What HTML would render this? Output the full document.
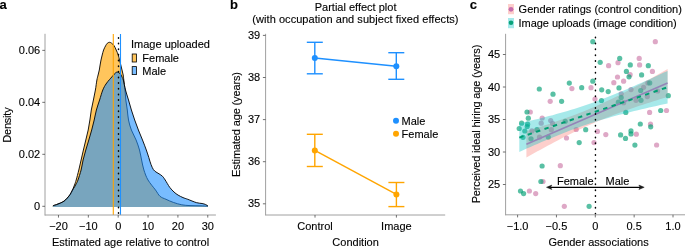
<!DOCTYPE html>
<html><head><meta charset="utf-8"><style>
html,body{margin:0;padding:0;background:#fff;width:685px;height:248px;overflow:hidden}
svg{display:block;will-change:transform}
</style></head><body>
<svg width="685" height="248" viewBox="0 0 685 248" font-family='"Liberation Sans", sans-serif'>
<style>text{stroke:#000;stroke-width:0.12px;paint-order:stroke}</style>
<rect width="685" height="248" fill="#fff"/>
<text x="-0.5" y="8.6" font-size="13" font-weight="bold" fill="#000">a</text>
<text x="230" y="8.8" font-size="13" font-weight="bold" fill="#000">b</text>
<text x="469.8" y="8.8" font-size="13" font-weight="bold" fill="#000">c</text>
<path d="M52.90,205.70 C53.48,205.52 55.15,205.05 56.40,204.60 C57.65,204.15 59.13,203.58 60.40,203.00 C61.67,202.42 62.87,201.92 64.00,201.10 C65.13,200.28 66.18,199.20 67.20,198.10 C68.22,197.00 69.22,195.85 70.10,194.50 C70.98,193.15 71.77,191.58 72.50,190.00 C73.23,188.42 73.88,186.67 74.50,185.00 C75.12,183.33 75.48,182.50 76.20,180.00 C76.92,177.50 77.98,173.33 78.80,170.00 C79.62,166.67 80.33,163.33 81.10,160.00 C81.87,156.67 82.62,153.33 83.40,150.00 C84.18,146.67 85.00,143.33 85.80,140.00 C86.60,136.67 87.52,133.33 88.20,130.00 C88.88,126.67 89.38,123.33 89.90,120.00 C90.42,116.67 90.72,113.33 91.30,110.00 C91.88,106.67 92.72,103.33 93.40,100.00 C94.08,96.67 94.82,93.33 95.40,90.00 C95.98,86.67 96.45,82.50 96.90,80.00 C97.35,77.50 97.70,76.67 98.10,75.00 C98.50,73.33 98.97,71.67 99.30,70.00 C99.63,68.33 99.82,66.67 100.10,65.00 C100.38,63.33 100.65,61.67 101.00,60.00 C101.35,58.33 101.77,56.67 102.20,55.00 C102.63,53.33 103.03,51.53 103.60,50.00 C104.17,48.47 104.98,46.92 105.60,45.80 C106.22,44.68 106.67,43.88 107.30,43.30 C107.93,42.72 108.68,42.32 109.40,42.30 C110.12,42.28 110.82,42.63 111.60,43.20 C112.38,43.77 113.33,44.57 114.10,45.70 C114.87,46.83 115.50,48.45 116.20,50.00 C116.90,51.55 117.75,53.33 118.30,55.00 C118.85,56.67 119.08,58.33 119.50,60.00 C119.92,61.67 120.38,63.33 120.80,65.00 C121.22,66.67 121.60,68.33 122.00,70.00 C122.40,71.67 122.90,73.33 123.20,75.00 C123.50,76.67 123.50,77.50 123.80,80.00 C124.10,82.50 124.67,86.67 125.00,90.00 C125.33,93.33 125.42,96.67 125.80,100.00 C126.18,103.33 126.85,106.67 127.30,110.00 C127.75,113.33 127.82,116.67 128.50,120.00 C129.18,123.33 130.13,126.67 131.40,130.00 C132.67,133.33 134.75,136.67 136.10,140.00 C137.45,143.33 138.58,146.67 139.50,150.00 C140.42,153.33 140.87,156.67 141.60,160.00 C142.33,163.33 142.83,166.67 143.90,170.00 C144.97,173.33 146.07,176.67 148.00,180.00 C149.93,183.33 153.50,187.28 155.50,190.00 C157.50,192.72 158.25,194.75 160.00,196.30 C161.75,197.85 163.78,198.28 166.00,199.30 C168.22,200.32 170.67,201.48 173.30,202.40 C175.93,203.32 179.02,204.27 181.80,204.80 C184.58,205.33 186.97,205.43 190.00,205.60 C193.03,205.77 197.03,205.72 200.00,205.80 C202.97,205.88 206.50,206.05 207.80,206.10 L207.8,206.9 L52.5,206.9 Z" fill="#FFA500" fill-opacity="0.64" stroke="none"/>
<path d="M52.90,205.70 C53.48,205.52 55.15,205.05 56.40,204.60 C57.65,204.15 59.13,203.58 60.40,203.00 C61.67,202.42 62.87,201.92 64.00,201.10 C65.13,200.28 66.18,199.20 67.20,198.10 C68.22,197.00 69.22,195.85 70.10,194.50 C70.98,193.15 71.77,191.58 72.50,190.00 C73.23,188.42 73.88,186.67 74.50,185.00 C75.12,183.33 75.48,182.50 76.20,180.00 C76.92,177.50 77.98,173.33 78.80,170.00 C79.62,166.67 80.33,163.33 81.10,160.00 C81.87,156.67 82.62,153.33 83.40,150.00 C84.18,146.67 85.00,143.33 85.80,140.00 C86.60,136.67 87.52,133.33 88.20,130.00 C88.88,126.67 89.38,123.33 89.90,120.00 C90.42,116.67 90.72,113.33 91.30,110.00 C91.88,106.67 92.72,103.33 93.40,100.00 C94.08,96.67 94.82,93.33 95.40,90.00 C95.98,86.67 96.45,82.50 96.90,80.00 C97.35,77.50 97.70,76.67 98.10,75.00 C98.50,73.33 98.97,71.67 99.30,70.00 C99.63,68.33 99.82,66.67 100.10,65.00 C100.38,63.33 100.65,61.67 101.00,60.00 C101.35,58.33 101.77,56.67 102.20,55.00 C102.63,53.33 103.03,51.53 103.60,50.00 C104.17,48.47 104.98,46.92 105.60,45.80 C106.22,44.68 106.67,43.88 107.30,43.30 C107.93,42.72 108.68,42.32 109.40,42.30 C110.12,42.28 110.82,42.63 111.60,43.20 C112.38,43.77 113.33,44.57 114.10,45.70 C114.87,46.83 115.50,48.45 116.20,50.00 C116.90,51.55 117.75,53.33 118.30,55.00 C118.85,56.67 119.08,58.33 119.50,60.00 C119.92,61.67 120.38,63.33 120.80,65.00 C121.22,66.67 121.60,68.33 122.00,70.00 C122.40,71.67 122.90,73.33 123.20,75.00 C123.50,76.67 123.50,77.50 123.80,80.00 C124.10,82.50 124.67,86.67 125.00,90.00 C125.33,93.33 125.42,96.67 125.80,100.00 C126.18,103.33 126.85,106.67 127.30,110.00 C127.75,113.33 127.82,116.67 128.50,120.00 C129.18,123.33 130.13,126.67 131.40,130.00 C132.67,133.33 134.75,136.67 136.10,140.00 C137.45,143.33 138.58,146.67 139.50,150.00 C140.42,153.33 140.87,156.67 141.60,160.00 C142.33,163.33 142.83,166.67 143.90,170.00 C144.97,173.33 146.07,176.67 148.00,180.00 C149.93,183.33 153.50,187.28 155.50,190.00 C157.50,192.72 158.25,194.75 160.00,196.30 C161.75,197.85 163.78,198.28 166.00,199.30 C168.22,200.32 170.67,201.48 173.30,202.40 C175.93,203.32 179.02,204.27 181.80,204.80 C184.58,205.33 186.97,205.43 190.00,205.60 C193.03,205.77 197.03,205.72 200.00,205.80 C202.97,205.88 206.50,206.05 207.80,206.10" fill="none" stroke="#000" stroke-width="0.9" stroke-linejoin="round"/>
<path d="M53.00,205.70 C53.57,205.53 55.17,205.13 56.40,204.70 C57.63,204.27 59.13,203.68 60.40,203.10 C61.67,202.52 62.87,202.02 64.00,201.20 C65.13,200.38 66.18,199.30 67.20,198.20 C68.22,197.10 69.23,195.92 70.10,194.60 C70.97,193.28 71.65,191.60 72.40,190.30 C73.15,189.00 73.92,187.97 74.60,186.80 C75.28,185.63 75.93,184.43 76.50,183.30 C77.07,182.17 77.23,182.22 78.00,180.00 C78.77,177.78 80.25,173.33 81.10,170.00 C81.95,166.67 82.32,163.33 83.10,160.00 C83.88,156.67 84.85,153.33 85.80,150.00 C86.75,146.67 87.82,143.33 88.80,140.00 C89.78,136.67 90.80,133.33 91.70,130.00 C92.60,126.67 93.42,123.33 94.20,120.00 C94.98,116.67 95.50,113.33 96.40,110.00 C97.30,106.67 98.53,103.33 99.60,100.00 C100.67,96.67 101.73,92.67 102.80,90.00 C103.87,87.33 104.88,85.73 106.00,84.00 C107.12,82.27 108.53,80.77 109.50,79.60 C110.47,78.43 111.02,77.90 111.80,77.00 C112.58,76.10 113.35,75.02 114.20,74.20 C115.05,73.38 116.07,72.30 116.90,72.10 C117.73,71.90 118.53,72.57 119.20,73.00 C119.87,73.43 120.40,73.98 120.90,74.70 C121.40,75.42 121.80,76.42 122.20,77.30 C122.60,78.18 122.75,77.88 123.30,80.00 C123.85,82.12 124.63,86.67 125.50,90.00 C126.37,93.33 127.52,96.67 128.50,100.00 C129.48,103.33 130.37,106.67 131.40,110.00 C132.43,113.33 133.53,116.67 134.70,120.00 C135.87,123.33 137.10,126.67 138.40,130.00 C139.70,133.33 141.18,136.67 142.50,140.00 C143.82,143.33 145.25,147.08 146.30,150.00 C147.35,152.92 148.02,155.08 148.80,157.50 C149.58,159.92 150.23,162.48 151.00,164.50 C151.77,166.52 152.57,168.35 153.40,169.60 C154.23,170.85 155.07,171.30 156.00,172.00 C156.93,172.70 157.93,173.10 159.00,173.80 C160.07,174.50 161.37,175.17 162.40,176.20 C163.43,177.23 163.98,178.15 165.20,180.00 C166.42,181.85 168.23,185.30 169.70,187.30 C171.17,189.30 172.60,190.70 174.00,192.00 C175.40,193.30 176.60,194.17 178.10,195.10 C179.60,196.03 181.38,196.90 183.00,197.60 C184.62,198.30 185.58,198.47 187.80,199.30 C190.02,200.13 193.93,201.90 196.30,202.60 C198.67,203.30 200.45,203.18 202.00,203.50 C203.55,203.82 204.62,204.08 205.60,204.50 C206.58,204.92 207.52,205.75 207.90,206.00 L207.9,206.9 L52.6,206.9 Z" fill="#1E90FF" fill-opacity="0.6" stroke="none"/>
<path d="M53.00,205.70 C53.57,205.53 55.17,205.13 56.40,204.70 C57.63,204.27 59.13,203.68 60.40,203.10 C61.67,202.52 62.87,202.02 64.00,201.20 C65.13,200.38 66.18,199.30 67.20,198.20 C68.22,197.10 69.23,195.92 70.10,194.60 C70.97,193.28 71.65,191.60 72.40,190.30 C73.15,189.00 73.92,187.97 74.60,186.80 C75.28,185.63 75.93,184.43 76.50,183.30 C77.07,182.17 77.23,182.22 78.00,180.00 C78.77,177.78 80.25,173.33 81.10,170.00 C81.95,166.67 82.32,163.33 83.10,160.00 C83.88,156.67 84.85,153.33 85.80,150.00 C86.75,146.67 87.82,143.33 88.80,140.00 C89.78,136.67 90.80,133.33 91.70,130.00 C92.60,126.67 93.42,123.33 94.20,120.00 C94.98,116.67 95.50,113.33 96.40,110.00 C97.30,106.67 98.53,103.33 99.60,100.00 C100.67,96.67 101.73,92.67 102.80,90.00 C103.87,87.33 104.88,85.73 106.00,84.00 C107.12,82.27 108.53,80.77 109.50,79.60 C110.47,78.43 111.02,77.90 111.80,77.00 C112.58,76.10 113.35,75.02 114.20,74.20 C115.05,73.38 116.07,72.30 116.90,72.10 C117.73,71.90 118.53,72.57 119.20,73.00 C119.87,73.43 120.40,73.98 120.90,74.70 C121.40,75.42 121.80,76.42 122.20,77.30 C122.60,78.18 122.75,77.88 123.30,80.00 C123.85,82.12 124.63,86.67 125.50,90.00 C126.37,93.33 127.52,96.67 128.50,100.00 C129.48,103.33 130.37,106.67 131.40,110.00 C132.43,113.33 133.53,116.67 134.70,120.00 C135.87,123.33 137.10,126.67 138.40,130.00 C139.70,133.33 141.18,136.67 142.50,140.00 C143.82,143.33 145.25,147.08 146.30,150.00 C147.35,152.92 148.02,155.08 148.80,157.50 C149.58,159.92 150.23,162.48 151.00,164.50 C151.77,166.52 152.57,168.35 153.40,169.60 C154.23,170.85 155.07,171.30 156.00,172.00 C156.93,172.70 157.93,173.10 159.00,173.80 C160.07,174.50 161.37,175.17 162.40,176.20 C163.43,177.23 163.98,178.15 165.20,180.00 C166.42,181.85 168.23,185.30 169.70,187.30 C171.17,189.30 172.60,190.70 174.00,192.00 C175.40,193.30 176.60,194.17 178.10,195.10 C179.60,196.03 181.38,196.90 183.00,197.60 C184.62,198.30 185.58,198.47 187.80,199.30 C190.02,200.13 193.93,201.90 196.30,202.60 C198.67,203.30 200.45,203.18 202.00,203.50 C203.55,203.82 204.62,204.08 205.60,204.50 C206.58,204.92 207.52,205.75 207.90,206.00" fill="none" stroke="#000" stroke-width="0.9" stroke-linejoin="round"/>
<line x1="113.3" y1="34" x2="113.3" y2="215" stroke="#FFA500" stroke-width="1.1"/>
<line x1="118.5" y1="37.65" x2="118.5" y2="215" stroke="#000" stroke-width="1.5" stroke-linecap="round" stroke-dasharray="0.5 5.15"/>
<line x1="120.5" y1="34" x2="120.5" y2="215" stroke="#1E90FF" stroke-width="1.1"/>
<line x1="45" y1="33.8" x2="45" y2="215.5" stroke="#a0a0a0" stroke-width="1"/>
<line x1="44.8" y1="215" x2="215.9" y2="215" stroke="#a0a0a0" stroke-width="1"/>
<line x1="42.3" y1="206.30" x2="45" y2="206.30" stroke="#4d4d4d" stroke-width="0.8"/>
<text x="40.2" y="209.80" font-size="11" text-anchor="end" fill="#000">0</text>
<line x1="42.3" y1="154.32" x2="45" y2="154.32" stroke="#4d4d4d" stroke-width="0.8"/>
<text x="40.2" y="157.82" font-size="11" text-anchor="end" fill="#000">0.02</text>
<line x1="42.3" y1="102.34" x2="45" y2="102.34" stroke="#4d4d4d" stroke-width="0.8"/>
<text x="40.2" y="105.84" font-size="11" text-anchor="end" fill="#000">0.04</text>
<line x1="42.3" y1="50.36" x2="45" y2="50.36" stroke="#4d4d4d" stroke-width="0.8"/>
<text x="40.2" y="53.86" font-size="11" text-anchor="end" fill="#000">0.06</text>
<line x1="58.48" y1="215" x2="58.48" y2="217.6" stroke="#4d4d4d" stroke-width="0.8"/>
<text x="58.48" y="230.2" font-size="11" text-anchor="middle" fill="#000">−20</text>
<line x1="88.34" y1="215" x2="88.34" y2="217.6" stroke="#4d4d4d" stroke-width="0.8"/>
<text x="88.34" y="230.2" font-size="11" text-anchor="middle" fill="#000">−10</text>
<line x1="118.20" y1="215" x2="118.20" y2="217.6" stroke="#4d4d4d" stroke-width="0.8"/>
<text x="118.20" y="230.2" font-size="11" text-anchor="middle" fill="#000">0</text>
<line x1="148.06" y1="215" x2="148.06" y2="217.6" stroke="#4d4d4d" stroke-width="0.8"/>
<text x="148.06" y="230.2" font-size="11" text-anchor="middle" fill="#000">10</text>
<line x1="177.92" y1="215" x2="177.92" y2="217.6" stroke="#4d4d4d" stroke-width="0.8"/>
<text x="177.92" y="230.2" font-size="11" text-anchor="middle" fill="#000">20</text>
<line x1="207.78" y1="215" x2="207.78" y2="217.6" stroke="#4d4d4d" stroke-width="0.8"/>
<text x="207.78" y="230.2" font-size="11" text-anchor="middle" fill="#000">30</text>
<text x="130.6" y="245.9" font-size="11" text-anchor="middle" fill="#000">Estimated age relative to control</text>
<text transform="translate(10.6,125.05) rotate(-90)" font-size="11" text-anchor="middle" textLength="35.4" lengthAdjust="spacing" fill="#000">Density</text>
<text x="131" y="48" font-size="11" fill="#000">Image uploaded</text>
<rect x="132.2" y="54.0" width="4.2" height="8" fill="#FFA500" fill-opacity="0.64" stroke="#000" stroke-width="0.8"/>
<rect x="132.2" y="66.6" width="4.2" height="8" fill="#1E90FF" fill-opacity="0.6" stroke="#000" stroke-width="0.8"/>
<text x="142.3" y="62" font-size="11" fill="#000">Female</text>
<text x="142.3" y="75" font-size="11" fill="#000">Male</text>
<text x="355.6" y="10.9" font-size="11" text-anchor="middle" fill="#000">Partial effect plot</text>
<text x="355.4" y="23.4" font-size="11" text-anchor="middle" textLength="206.1" lengthAdjust="spacing" fill="#000">(with occupation and subject fixed effects)</text>
<line x1="265.6" y1="33.8" x2="265.6" y2="215.2" stroke="#a0a0a0" stroke-width="1"/>
<line x1="265.1" y1="215" x2="445.2" y2="215" stroke="#a0a0a0" stroke-width="1"/>
<line x1="262.9" y1="203.80" x2="265.6" y2="203.80" stroke="#4d4d4d" stroke-width="0.8"/>
<text x="260.2" y="207.30" font-size="11" text-anchor="end" fill="#000">35</text>
<line x1="262.9" y1="161.70" x2="265.6" y2="161.70" stroke="#4d4d4d" stroke-width="0.8"/>
<text x="260.2" y="165.20" font-size="11" text-anchor="end" fill="#000">36</text>
<line x1="262.9" y1="119.60" x2="265.6" y2="119.60" stroke="#4d4d4d" stroke-width="0.8"/>
<text x="260.2" y="123.10" font-size="11" text-anchor="end" fill="#000">37</text>
<line x1="262.9" y1="77.50" x2="265.6" y2="77.50" stroke="#4d4d4d" stroke-width="0.8"/>
<text x="260.2" y="81.00" font-size="11" text-anchor="end" fill="#000">38</text>
<line x1="262.9" y1="35.40" x2="265.6" y2="35.40" stroke="#4d4d4d" stroke-width="0.8"/>
<text x="260.2" y="38.90" font-size="11" text-anchor="end" fill="#000">39</text>
<line x1="315" y1="215" x2="315" y2="217.6" stroke="#4d4d4d" stroke-width="0.8"/>
<text x="315" y="230.2" font-size="11" text-anchor="middle" fill="#000">Control</text>
<line x1="396.4" y1="215" x2="396.4" y2="217.6" stroke="#4d4d4d" stroke-width="0.8"/>
<text x="396.4" y="230.2" font-size="11" text-anchor="middle" fill="#000">Image</text>
<text x="355.6" y="245.9" font-size="11" text-anchor="middle" fill="#000">Condition</text>
<text transform="translate(239.6,124.45) rotate(-90)" font-size="11" text-anchor="middle" textLength="104.9" lengthAdjust="spacing" fill="#000">Estimated age (years)</text>
<line x1="314.8" y1="58" x2="396.3" y2="66.2" stroke="#1E90FF" stroke-width="1.4"/>
<line x1="314.8" y1="150.4" x2="396.4" y2="194.4" stroke="#FFA500" stroke-width="1.4"/>
<line x1="314.8" y1="42.3" x2="314.8" y2="73.8" stroke="#1E90FF" stroke-width="1.4"/>
<line x1="306.8" y1="42.3" x2="322.8" y2="42.3" stroke="#1E90FF" stroke-width="1.4"/>
<line x1="306.8" y1="73.8" x2="322.8" y2="73.8" stroke="#1E90FF" stroke-width="1.4"/>
<circle cx="314.8" cy="58" r="3" fill="#1E90FF"/>
<line x1="396.3" y1="52.7" x2="396.3" y2="79.3" stroke="#1E90FF" stroke-width="1.4"/>
<line x1="388.3" y1="52.7" x2="404.3" y2="52.7" stroke="#1E90FF" stroke-width="1.4"/>
<line x1="388.3" y1="79.3" x2="404.3" y2="79.3" stroke="#1E90FF" stroke-width="1.4"/>
<circle cx="396.3" cy="66.2" r="3" fill="#1E90FF"/>
<line x1="314.8" y1="134.3" x2="314.8" y2="166.5" stroke="#FFA500" stroke-width="1.4"/>
<line x1="306.8" y1="134.3" x2="322.8" y2="134.3" stroke="#FFA500" stroke-width="1.4"/>
<line x1="306.8" y1="166.5" x2="322.8" y2="166.5" stroke="#FFA500" stroke-width="1.4"/>
<circle cx="314.8" cy="150.4" r="3" fill="#FFA500"/>
<line x1="396.4" y1="182.5" x2="396.4" y2="206.6" stroke="#FFA500" stroke-width="1.4"/>
<line x1="388.4" y1="182.5" x2="404.4" y2="182.5" stroke="#FFA500" stroke-width="1.4"/>
<line x1="388.4" y1="206.6" x2="404.4" y2="206.6" stroke="#FFA500" stroke-width="1.4"/>
<circle cx="396.4" cy="194.4" r="3" fill="#FFA500"/>
<circle cx="396" cy="120.8" r="3" fill="#1E90FF"/>
<circle cx="396" cy="133.8" r="3" fill="#FFA500"/>
<text x="401.6" y="124.8" font-size="11" fill="#000">Male</text>
<text x="401.6" y="137.5" font-size="11" fill="#000">Female</text>
<defs><clipPath id="cc"><rect x="506" y="33" width="179" height="182"/></clipPath></defs>
<rect x="508" y="4" width="6" height="10.2" fill="#F8766D" fill-opacity="0.35"/>
<rect x="508" y="18" width="6" height="10.2" fill="#00BFC4" fill-opacity="0.35"/>
<circle cx="511" cy="9.3" r="2.4" fill="#C062AA" fill-opacity="0.9"/>
<circle cx="511" cy="22.8" r="2.3" fill="#009E73" fill-opacity="0.95"/>
<text x="518.6" y="13" font-size="11" fill="#000">Gender ratings (control condition)</text>
<text x="518.6" y="26.8" font-size="11" textLength="158.1" lengthAdjust="spacing" fill="#000">Image uploads (image condition)</text>
<g clip-path="url(#cc)">
<circle cx="655.3" cy="41.7" r="2.6" fill="#CC79A7" fill-opacity="0.65"/>
<circle cx="571.9" cy="88.6" r="2.6" fill="#CC79A7" fill-opacity="0.65"/>
<circle cx="591" cy="87.7" r="2.6" fill="#CC79A7" fill-opacity="0.65"/>
<circle cx="550.2" cy="101.3" r="2.6" fill="#CC79A7" fill-opacity="0.65"/>
<circle cx="595" cy="99" r="2.6" fill="#CC79A7" fill-opacity="0.65"/>
<circle cx="608.6" cy="65.7" r="2.6" fill="#CC79A7" fill-opacity="0.65"/>
<circle cx="618" cy="62.7" r="2.6" fill="#CC79A7" fill-opacity="0.65"/>
<circle cx="639.2" cy="58.4" r="2.6" fill="#CC79A7" fill-opacity="0.65"/>
<circle cx="639.6" cy="64.9" r="2.6" fill="#CC79A7" fill-opacity="0.65"/>
<circle cx="630.1" cy="74.7" r="2.6" fill="#CC79A7" fill-opacity="0.65"/>
<circle cx="617.5" cy="77" r="2.6" fill="#CC79A7" fill-opacity="0.65"/>
<circle cx="652.4" cy="71.4" r="2.6" fill="#CC79A7" fill-opacity="0.65"/>
<circle cx="613.8" cy="82.7" r="2.6" fill="#CC79A7" fill-opacity="0.65"/>
<circle cx="623.6" cy="81.2" r="2.6" fill="#CC79A7" fill-opacity="0.65"/>
<circle cx="631" cy="89.6" r="2.6" fill="#CC79A7" fill-opacity="0.65"/>
<circle cx="621.2" cy="93.8" r="2.6" fill="#CC79A7" fill-opacity="0.65"/>
<circle cx="623.6" cy="102.7" r="2.6" fill="#CC79A7" fill-opacity="0.65"/>
<circle cx="636" cy="100.3" r="2.6" fill="#CC79A7" fill-opacity="0.65"/>
<circle cx="649.6" cy="112.4" r="2.6" fill="#CC79A7" fill-opacity="0.65"/>
<circle cx="666.5" cy="110.5" r="2.6" fill="#CC79A7" fill-opacity="0.65"/>
<circle cx="650.5" cy="124.2" r="2.6" fill="#CC79A7" fill-opacity="0.65"/>
<circle cx="647.9" cy="83" r="2.6" fill="#CC79A7" fill-opacity="0.65"/>
<circle cx="643.6" cy="87.3" r="2.6" fill="#CC79A7" fill-opacity="0.65"/>
<circle cx="647.3" cy="96.6" r="2.6" fill="#CC79A7" fill-opacity="0.65"/>
<circle cx="657.6" cy="91" r="2.6" fill="#CC79A7" fill-opacity="0.65"/>
<circle cx="530.3" cy="112" r="2.6" fill="#CC79A7" fill-opacity="0.65"/>
<circle cx="542.2" cy="118" r="2.6" fill="#CC79A7" fill-opacity="0.65"/>
<circle cx="541.2" cy="123.2" r="2.6" fill="#CC79A7" fill-opacity="0.65"/>
<circle cx="531.9" cy="130.9" r="2.6" fill="#CC79A7" fill-opacity="0.65"/>
<circle cx="539.5" cy="137" r="2.6" fill="#CC79A7" fill-opacity="0.65"/>
<circle cx="550.7" cy="120.6" r="2.6" fill="#CC79A7" fill-opacity="0.65"/>
<circle cx="551.3" cy="129.7" r="2.6" fill="#CC79A7" fill-opacity="0.65"/>
<circle cx="552.6" cy="123.4" r="2.6" fill="#CC79A7" fill-opacity="0.65"/>
<circle cx="576.2" cy="129.5" r="2.6" fill="#CC79A7" fill-opacity="0.65"/>
<circle cx="597.4" cy="131.4" r="2.6" fill="#CC79A7" fill-opacity="0.65"/>
<circle cx="566.5" cy="138" r="2.6" fill="#CC79A7" fill-opacity="0.65"/>
<circle cx="594" cy="142.6" r="2.6" fill="#CC79A7" fill-opacity="0.65"/>
<circle cx="605.8" cy="134.6" r="2.6" fill="#CC79A7" fill-opacity="0.65"/>
<circle cx="636.3" cy="134.2" r="2.6" fill="#CC79A7" fill-opacity="0.65"/>
<circle cx="656.6" cy="145" r="2.6" fill="#CC79A7" fill-opacity="0.65"/>
<circle cx="560.3" cy="165.7" r="2.6" fill="#CC79A7" fill-opacity="0.65"/>
<circle cx="543" cy="181.5" r="2.6" fill="#CC79A7" fill-opacity="0.65"/>
<circle cx="529.4" cy="191" r="2.6" fill="#CC79A7" fill-opacity="0.65"/>
<circle cx="535.7" cy="193.6" r="2.6" fill="#CC79A7" fill-opacity="0.65"/>
<circle cx="564.3" cy="206.3" r="2.6" fill="#CC79A7" fill-opacity="0.65"/>
<circle cx="592.8" cy="41.7" r="2.6" fill="#009E73" fill-opacity="0.65"/>
<circle cx="539.3" cy="89" r="2.6" fill="#009E73" fill-opacity="0.65"/>
<circle cx="569.3" cy="83.1" r="2.6" fill="#009E73" fill-opacity="0.65"/>
<circle cx="581.7" cy="87.7" r="2.6" fill="#009E73" fill-opacity="0.65"/>
<circle cx="592.8" cy="81.2" r="2.6" fill="#009E73" fill-opacity="0.65"/>
<circle cx="553" cy="94.2" r="2.6" fill="#009E73" fill-opacity="0.65"/>
<circle cx="561.6" cy="101.3" r="2.6" fill="#009E73" fill-opacity="0.65"/>
<circle cx="601.5" cy="100.5" r="2.6" fill="#009E73" fill-opacity="0.65"/>
<circle cx="600.2" cy="62.3" r="2.6" fill="#009E73" fill-opacity="0.65"/>
<circle cx="619.7" cy="58.4" r="2.6" fill="#009E73" fill-opacity="0.65"/>
<circle cx="630.3" cy="64.9" r="2.6" fill="#009E73" fill-opacity="0.65"/>
<circle cx="626.4" cy="71.4" r="2.6" fill="#009E73" fill-opacity="0.65"/>
<circle cx="629" cy="76.8" r="2.6" fill="#009E73" fill-opacity="0.65"/>
<circle cx="641.6" cy="74.9" r="2.6" fill="#009E73" fill-opacity="0.65"/>
<circle cx="648.3" cy="65.7" r="2.6" fill="#009E73" fill-opacity="0.65"/>
<circle cx="601.7" cy="89.8" r="2.6" fill="#009E73" fill-opacity="0.65"/>
<circle cx="608.2" cy="91.6" r="2.6" fill="#009E73" fill-opacity="0.65"/>
<circle cx="619" cy="87.9" r="2.6" fill="#009E73" fill-opacity="0.65"/>
<circle cx="640.7" cy="90.5" r="2.6" fill="#009E73" fill-opacity="0.65"/>
<circle cx="621.2" cy="97.6" r="2.6" fill="#009E73" fill-opacity="0.65"/>
<circle cx="618.4" cy="102.2" r="2.6" fill="#009E73" fill-opacity="0.65"/>
<circle cx="641" cy="100.3" r="2.6" fill="#009E73" fill-opacity="0.65"/>
<circle cx="625.8" cy="112.4" r="2.6" fill="#009E73" fill-opacity="0.65"/>
<circle cx="640.3" cy="124" r="2.6" fill="#009E73" fill-opacity="0.65"/>
<circle cx="668.3" cy="95.7" r="2.6" fill="#009E73" fill-opacity="0.65"/>
<circle cx="660.7" cy="110.5" r="2.6" fill="#009E73" fill-opacity="0.65"/>
<circle cx="650.7" cy="126.8" r="2.6" fill="#009E73" fill-opacity="0.65"/>
<circle cx="649.7" cy="82.9" r="2.6" fill="#009E73" fill-opacity="0.65"/>
<circle cx="523" cy="137.3" r="2.6" fill="#009E73" fill-opacity="0.65"/>
<circle cx="527" cy="112" r="2.6" fill="#009E73" fill-opacity="0.65"/>
<circle cx="528.3" cy="118.2" r="2.6" fill="#009E73" fill-opacity="0.65"/>
<circle cx="521.6" cy="123.2" r="2.6" fill="#009E73" fill-opacity="0.65"/>
<circle cx="527.6" cy="124.2" r="2.6" fill="#009E73" fill-opacity="0.65"/>
<circle cx="527.2" cy="126.5" r="2.6" fill="#009E73" fill-opacity="0.65"/>
<circle cx="519.2" cy="128.5" r="2.6" fill="#009E73" fill-opacity="0.65"/>
<circle cx="524.8" cy="131" r="2.6" fill="#009E73" fill-opacity="0.65"/>
<circle cx="537" cy="129.7" r="2.6" fill="#009E73" fill-opacity="0.65"/>
<circle cx="531" cy="138.8" r="2.6" fill="#009E73" fill-opacity="0.65"/>
<circle cx="548.3" cy="137.1" r="2.6" fill="#009E73" fill-opacity="0.65"/>
<circle cx="565.2" cy="121.3" r="2.6" fill="#009E73" fill-opacity="0.65"/>
<circle cx="585.7" cy="129.7" r="2.6" fill="#009E73" fill-opacity="0.65"/>
<circle cx="579.2" cy="142.6" r="2.6" fill="#009E73" fill-opacity="0.65"/>
<circle cx="620.6" cy="134.9" r="2.6" fill="#009E73" fill-opacity="0.65"/>
<circle cx="625.5" cy="138.4" r="2.6" fill="#009E73" fill-opacity="0.65"/>
<circle cx="631" cy="130.9" r="2.6" fill="#009E73" fill-opacity="0.65"/>
<circle cx="631" cy="133.9" r="2.6" fill="#009E73" fill-opacity="0.65"/>
<circle cx="634.9" cy="145.1" r="2.6" fill="#009E73" fill-opacity="0.65"/>
<circle cx="542.1" cy="166" r="2.6" fill="#009E73" fill-opacity="0.65"/>
<circle cx="540.9" cy="181.5" r="2.6" fill="#009E73" fill-opacity="0.65"/>
<circle cx="520.5" cy="191" r="2.6" fill="#009E73" fill-opacity="0.65"/>
<circle cx="523.6" cy="193.6" r="2.6" fill="#009E73" fill-opacity="0.65"/>
<circle cx="589.1" cy="206.3" r="2.6" fill="#009E73" fill-opacity="0.65"/>
<path d="M526.40,131.15 L529.93,130.05 L533.46,128.94 L536.99,127.82 L540.52,126.68 L544.05,125.54 L547.58,124.38 L551.11,123.21 L554.64,122.02 L558.17,120.81 L561.70,119.58 L565.23,118.33 L568.76,117.05 L572.29,115.74 L575.82,114.41 L579.35,113.04 L582.88,111.65 L586.41,110.21 L589.94,108.74 L593.47,107.23 L597.00,105.69 L600.53,104.10 L604.06,102.48 L607.59,100.83 L611.12,99.14 L614.65,97.42 L618.18,95.67 L621.71,93.89 L625.24,92.08 L628.77,90.25 L632.30,88.40 L635.83,86.53 L639.36,84.65 L642.89,82.74 L646.42,80.83 L649.95,78.90 L653.48,76.96 L657.01,75.00 L660.54,73.04 L664.07,71.07 L667.60,69.10 L667.60,96.90 L664.07,97.99 L660.54,99.09 L657.01,100.19 L653.48,101.30 L649.95,102.43 L646.42,103.56 L642.89,104.71 L639.36,105.87 L635.83,107.05 L632.30,108.25 L628.77,109.46 L625.24,110.70 L621.71,111.96 L618.18,113.24 L614.65,114.56 L611.12,115.90 L607.59,117.28 L604.06,118.69 L600.53,120.13 L597.00,121.61 L593.47,123.13 L589.94,124.69 L586.41,126.28 L582.88,127.91 L579.35,129.58 L575.82,131.28 L572.29,133.01 L568.76,134.77 L565.23,136.56 L561.70,138.37 L558.17,140.21 L554.64,142.06 L551.11,143.94 L547.58,145.83 L544.05,147.73 L540.52,149.66 L536.99,151.59 L533.46,153.53 L529.93,155.49 L526.40,157.45 Z" fill="#F8766D" fill-opacity="0.35"/>
<path d="M519.30,123.29 L523.01,122.45 L526.71,121.59 L530.42,120.72 L534.13,119.83 L537.84,118.93 L541.54,118.01 L545.25,117.07 L548.96,116.11 L552.67,115.13 L556.38,114.12 L560.08,113.09 L563.79,112.03 L567.50,110.94 L571.20,109.82 L574.91,108.67 L578.62,107.49 L582.33,106.27 L586.03,105.02 L589.74,103.73 L593.45,102.41 L597.16,101.06 L600.87,99.68 L604.57,98.26 L608.28,96.81 L611.99,95.34 L615.70,93.84 L619.40,92.31 L623.11,90.76 L626.82,89.19 L630.52,87.60 L634.23,85.99 L637.94,84.36 L641.65,82.72 L645.36,81.07 L649.06,79.40 L652.77,77.72 L656.48,76.03 L660.18,74.33 L663.89,72.62 L667.60,70.90 L667.60,103.50 L663.89,104.30 L660.18,105.11 L656.48,105.93 L652.77,106.76 L649.06,107.60 L645.36,108.45 L641.65,109.32 L637.94,110.20 L634.23,111.09 L630.52,112.00 L626.82,112.93 L623.11,113.88 L619.40,114.85 L615.70,115.84 L611.99,116.86 L608.28,117.91 L604.57,118.98 L600.87,120.08 L597.16,121.22 L593.45,122.39 L589.74,123.59 L586.03,124.82 L582.33,126.09 L578.62,127.39 L574.91,128.73 L571.20,130.10 L567.50,131.50 L563.79,132.93 L560.08,134.39 L556.38,135.88 L552.67,137.39 L548.96,138.93 L545.25,140.49 L541.54,142.07 L537.84,143.67 L534.13,145.29 L530.42,146.92 L526.71,148.57 L523.01,150.23 L519.30,151.91 Z" fill="#00BFC4" fill-opacity="0.35"/>
<line x1="526.4" y1="144.3" x2="667.6" y2="83.0" stroke="#9484B8" stroke-width="1.6"/>
<line x1="519.3" y1="137.6" x2="667.6" y2="87.2" stroke="#009E73" stroke-width="2" stroke-dasharray="4.43 4.43"/>
</g>
<line x1="595.45" y1="37.35" x2="595.45" y2="215" stroke="#000" stroke-width="1.5" stroke-linecap="round" stroke-dasharray="0.5 5.37"/>
<line x1="505.6" y1="33.8" x2="505.6" y2="215.2" stroke="#a0a0a0" stroke-width="1"/>
<line x1="505.1" y1="214.8" x2="685" y2="214.8" stroke="#a0a0a0" stroke-width="1"/>
<line x1="502.9" y1="184.50" x2="505.6" y2="184.50" stroke="#4d4d4d" stroke-width="0.8"/>
<text x="500.2" y="188.00" font-size="11" text-anchor="end" fill="#000">25</text>
<line x1="502.9" y1="152.00" x2="505.6" y2="152.00" stroke="#4d4d4d" stroke-width="0.8"/>
<text x="500.2" y="155.50" font-size="11" text-anchor="end" fill="#000">30</text>
<line x1="502.9" y1="119.50" x2="505.6" y2="119.50" stroke="#4d4d4d" stroke-width="0.8"/>
<text x="500.2" y="123.00" font-size="11" text-anchor="end" fill="#000">35</text>
<line x1="502.9" y1="87.00" x2="505.6" y2="87.00" stroke="#4d4d4d" stroke-width="0.8"/>
<text x="500.2" y="90.50" font-size="11" text-anchor="end" fill="#000">40</text>
<line x1="502.9" y1="54.50" x2="505.6" y2="54.50" stroke="#4d4d4d" stroke-width="0.8"/>
<text x="500.2" y="58.00" font-size="11" text-anchor="end" fill="#000">45</text>
<line x1="517.60" y1="214.8" x2="517.60" y2="217.4" stroke="#4d4d4d" stroke-width="0.8"/>
<text x="517.60" y="230.2" font-size="11" text-anchor="middle" fill="#000">−1.0</text>
<line x1="556.45" y1="214.8" x2="556.45" y2="217.4" stroke="#4d4d4d" stroke-width="0.8"/>
<text x="556.45" y="230.2" font-size="11" text-anchor="middle" fill="#000">−0.5</text>
<line x1="595.30" y1="214.8" x2="595.30" y2="217.4" stroke="#4d4d4d" stroke-width="0.8"/>
<text x="595.30" y="230.2" font-size="11" text-anchor="middle" fill="#000">0</text>
<line x1="634.15" y1="214.8" x2="634.15" y2="217.4" stroke="#4d4d4d" stroke-width="0.8"/>
<text x="634.15" y="230.2" font-size="11" text-anchor="middle" fill="#000">0.5</text>
<line x1="673.00" y1="214.8" x2="673.00" y2="217.4" stroke="#4d4d4d" stroke-width="0.8"/>
<text x="673.00" y="230.2" font-size="11" text-anchor="middle" fill="#000">1.0</text>
<text x="598.6" y="245.9" font-size="11" text-anchor="middle" fill="#000">Gender associations</text>
<text transform="translate(480.4,124.0) rotate(-90)" font-size="11" text-anchor="middle" textLength="158.7" lengthAdjust="spacing" fill="#000">Perceived ideal hiring age (years)</text>
<line x1="549" y1="187.3" x2="642" y2="187.3" stroke="#000" stroke-width="1.2"/>
<path d="M546.5,187.3 L551.8,185.1 L550.6,187.3 L551.8,189.5 Z" fill="#1a1a1a" stroke="#1a1a1a" stroke-width="0.5" stroke-linejoin="round"/>
<path d="M644.2,187.3 L638.9,185.1 L640.1,187.3 L638.9,189.5 Z" fill="#1a1a1a" stroke="#1a1a1a" stroke-width="0.5" stroke-linejoin="round"/>
<text x="557" y="184.7" font-size="11" fill="#000">Female</text>
<text x="605.6" y="184.7" font-size="11" fill="#000">Male</text>
</svg>
</body></html>
